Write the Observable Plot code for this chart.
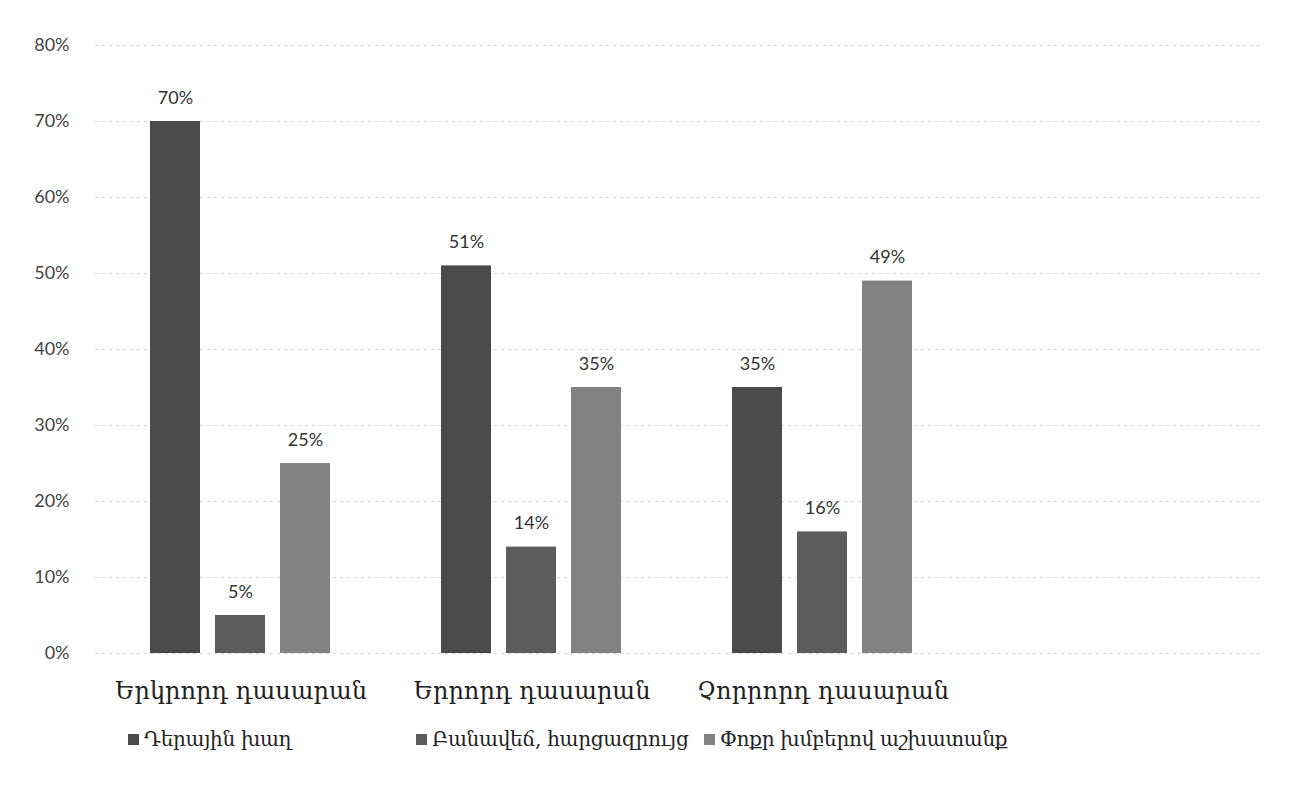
<!DOCTYPE html>
<html>
<head>
<meta charset="utf-8">
<script src="https://cdn.jsdelivr.net/npm/d3@7"></script>
<script src="https://cdn.jsdelivr.net/npm/@observablehq/plot@0.6"></script>
<style>
  html, body { margin: 0; padding: 0; background: #fff; }
  #chart { position: relative; width: 1305px; height: 794px; overflow: hidden; }
  #chart svg { position: absolute; top: 0; left: 0; }
  .legend { position: absolute; top: 727px; left: 128px; display: flex; align-items: center; font-family: "DejaVu Serif", serif; font-size: 20px; letter-spacing: -0.3px; color: #222; white-space: nowrap; }
  .legend .item { display: flex; align-items: center; width: 288px; flex: 0 0 auto; }
  .legend .sw { width: 11px; height: 11px; margin-right: 5px; flex: 0 0 auto; }
</style>
</head>
<body>
<div id="chart"></div>
<script>
const categories = ["Երկրորդ դասարան", "Երրորդ դասարան", "Չորրորդ դասարան"];
const series = ["Դերային խաղ", "Բանավեճ, հարցազրույց", "Փոքր խմբերով աշխատանք"];
const roleplay = [0.70, 0.51, 0.35];
const debate = [0.05, 0.14, 0.16];
const smallGroups = [0.25, 0.35, 0.49];
const yTicks = [0, 0.1, 0.2, 0.3, 0.4, 0.5, 0.6, 0.7, 0.8];
const colors = ["#4b4b4b", "#5c5c5c", "#828282"];

const valuesBySeries = [roleplay, debate, smallGroups];
const data = [];
categories.forEach((g, i) => {
  series.forEach((s, j) => data.push({group: g, series: s, value: valuesBySeries[j][i]}));
});

const fmt = d3.format(".0%");
const common = {width: 1305, height: 715, marginLeft: 95, marginRight: 45, marginTop: 45, marginBottom: 62};

// background gridlines spanning the whole plot area
const grid = Plot.plot({
  ...common,
  style: {background: "transparent"},
  x: {axis: null},
  y: {domain: [0, 0.8], axis: null},
  marks: [Plot.ruleY(yTicks, {stroke: "#d4d4d4", strokeDasharray: "3,4"})]
});

const chart = Plot.plot({
  ...common,
  style: {background: "transparent", fontFamily: "Lato, 'Open Sans', sans-serif", fontSize: "18px", color: "#444"},
  facet: {data, x: "group", label: null},
  fx: {domain: categories, range: [95, 968], padding: 0, label: null, tickSize: 0, tickPadding: 28},
  x: {domain: series, paddingInner: 0.23, paddingOuter: 0.85, axis: null},
  y: {domain: [0, 0.8], ticks: yTicks, tickFormat: fmt, tickSize: 0, tickPadding: 26, label: null},
  color: {domain: series, range: colors},
  marks: [
    Plot.barY(data, {x: "series", y: "value", fill: "series"}),
    Plot.text(data, {x: "series", y: "value", text: d => fmt(d.value), dy: -18, lineAnchor: "bottom",
                     fill: "#333", fontSize: 18, fontFamily: "Lato, 'Open Sans', sans-serif"})
  ]
});

const root = document.getElementById("chart");
root.appendChild(grid);
root.appendChild(chart);
d3.select(chart).selectAll("g[aria-label='fx-axis tick label'] text, g[aria-label='fx-axis'] text")
  .style("font-family", "'DejaVu Serif', serif").style("font-size", "24px").style("fill", "#222");

const legend = document.createElement("div");
legend.className = "legend";
series.forEach((s, i) => {
  const it = document.createElement("div");
  it.className = "item";
  const sw = document.createElement("span");
  sw.className = "sw";
  sw.style.background = colors[i];
  const t = document.createElement("span");
  t.textContent = s;
  it.appendChild(sw); it.appendChild(t);
  legend.appendChild(it);
});
root.appendChild(legend);
</script>
</body>
</html>
